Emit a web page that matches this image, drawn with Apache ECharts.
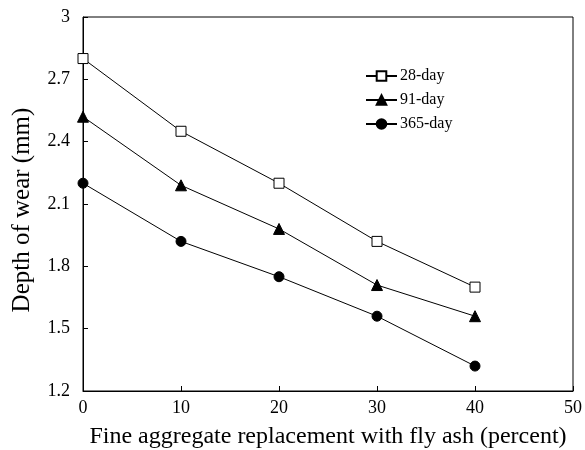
<!DOCTYPE html>
<html><head><meta charset="utf-8">
<script src="https://cdn.jsdelivr.net/npm/echarts@6/dist/echarts.min.js"></script>
<style>html,body{margin:0;padding:0;background:#fff}#c{width:585px;height:450px}</style>
</head><body><div id="c"></div>
<script>
const xValues = [0, 10, 20, 30, 40];
const seriesNames = ['28-day', '91-day', '365-day'];
const day28 = [2.80, 2.45, 2.20, 1.92, 1.70];
const day91 = [2.52, 2.19, 1.98, 1.71, 1.56];
const day365 = [2.20, 1.92, 1.75, 1.56, 1.32];

const font = 'Liberation Serif, Times New Roman, serif';
const chart = echarts.init(document.getElementById('c'));
function mk(name, vals, symbol, size, fill) {
  return {
    name, type: 'line', data: xValues.map((x, i) => [x, vals[i]]),
    symbol, symbolSize: size, showSymbol: true,
    lineStyle: { color: '#000', width: 1 },
    itemStyle: { color: fill, borderColor: '#000', borderWidth: 1 },
    animation: false
  };
}
chart.setOption({
  animation: false,
  grid: { left: 83, right: 12, top: 17, bottom: 59, outerBoundsMode: 'none', containLabel: false },
  legend: {
    orient: 'vertical', left: 360, top: 63, itemGap: 8, itemWidth: 31, itemHeight: 12,
    textStyle: { fontFamily: font, fontSize: 16, color: '#000', padding: [0, 0, 0, -2] },
    data: seriesNames
  },
  xAxis: {
    type: 'value', min: 0, max: 50, interval: 10,
    name: 'Fine aggregate replacement with fly ash (percent)',
    nameLocation: 'middle', nameGap: 34,
    nameTextStyle: { fontFamily: font, fontSize: 24, color: '#000' },
    axisLine: { show: true, onZero: false, lineStyle: { color: '#000', width: 1 } },
    axisTick: { show: true, inside: true, length: 5, lineStyle: { color: '#000' } },
    axisLabel: { fontFamily: font, fontSize: 18, color: '#000', margin: 8 },
    splitLine: { show: false }
  },
  yAxis: {
    type: 'value', min: 1.2, max: 3, interval: 0.3,
    name: 'Depth of wear (mm)', nameLocation: 'middle', nameGap: 48,
    nameTextStyle: { fontFamily: font, fontSize: 25, color: '#000', padding: [0, 12, 0, 0] },
    axisLine: { show: true, lineStyle: { color: '#000', width: 1 } },
    axisTick: { show: true, inside: true, length: 5, lineStyle: { color: '#000' } },
    axisLabel: { fontFamily: font, fontSize: 18, color: '#000', margin: 13,
      formatter: v => String(Math.round(v * 10) / 10) },
    splitLine: { show: false }
  },
  graphic: [{
    type: 'rect', shape: { x: 83, y: 17, width: 490, height: 374 },
    style: { fill: 'none', stroke: '#000', lineWidth: 1 }, silent: true, z: 0
  }],
  series: [
    mk('28-day', day28, 'rect', 10, '#fff'),
    mk('91-day', day91, 'triangle', 11, '#000'),
    mk('365-day', day365, 'circle', 10, '#000')
  ]
});
</script></body></html>
